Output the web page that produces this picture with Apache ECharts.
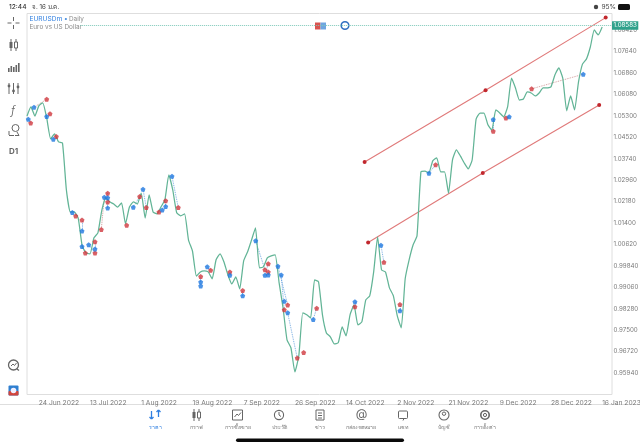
<!DOCTYPE html>
<html><head><meta charset="utf-8">
<style>html,body{margin:0;padding:0;background:#fff}#c{width:640px;height:447px}</style>
<script src="https://cdn.jsdelivr.net/npm/echarts@6/dist/echarts.min.js"></script>
</head><body><div id="c"></div>
<script>
const priceClose = [1.0529,1.0562,1.0529,1.0566,1.0577,1.0522,1.0446,1.0464,1.0435,1.0431,
1.0260,1.0180,1.0180,1.0158,1.0057,1.0031,1.0028,1.0086,1.0104,1.0187,
1.0231,1.0217,1.0209,1.0198,1.0213,1.0137,1.0198,1.0217,1.0209,1.0249,
1.0158,1.0242,1.0180,1.0173,1.0198,1.0224,1.0315,1.0260,1.0177,1.0166,
1.0173,1.0078,1.0038,0.9947,0.9962,0.9966,0.9962,0.9937,1.0006,1.0028,
0.9998,0.9951,0.9918,0.9944,0.9900,1.0002,1.0035,1.0078,1.0122,0.9977,
0.9980,1.0013,1.0020,1.0024,0.9922,0.9831,0.9715,0.9686,0.9598,0.9657,
0.9813,0.9806,0.9795,0.9933,0.9926,0.9806,0.9740,0.9726,0.9700,0.9704,
0.9762,0.9729,0.9806,0.9842,0.9769,0.9780,0.9860,0.9875,0.9962,1.0089,
0.9969,0.9962,0.9904,0.9875,0.9802,0.9758,0.9937,1.0006,1.0060,1.0093,
1.0326,1.0329,1.0322,1.0366,1.0377,1.0326,1.0326,1.0249,1.0369,1.0406,
1.0384,1.0358,1.0337,1.0369,1.0518,1.0540,1.0540,1.0497,1.0478,1.0551,
1.0540,1.0526,1.0562,1.0667,1.0631,1.0587,1.0591,1.0617,1.0613,1.0602,
1.0613,1.0631,1.0631,1.0635,1.0678,1.0704,1.0667,1.0548,1.0602,1.0551,
1.0653,1.0718,1.0736,1.0780,1.0842,1.0824,1.0853];

// trades: [bar position, price]; blue[i] links to red[i]
const tradeBlue = [[.33,1.0517],[1.78,1.0561],[5,1.0527],[6.68,1.0445],[11.5,1.0178],[13.96,1.0111],[13.96,1.0054],[15.66,1.0061],[17.26,1.0045],[19.62,1.0234],[20.48,1.0232],[20.48,1.0194],[26.98,1.0197],[29.44,1.0263],[34.34,1.0187],[35.2,1.02],[36.8,1.031],[44.09,.9925],[45.76,.9981],[51.5,.995],[54.75,.9875],[58.05,1.0075],[60.4,.995],[61.24,.9951],[63.7,.9983],[64.54,.9951],[66.17,.9813],[72.66,.9789],[83.25,.9853],[89.85,1.0059],[94.67,.9821],[102.03,1.0321],[118.35,1.0516],[122.4,1.0526],[141.2,1.0681]];
const tradeRed = [[.94,1.0504],[5,1.059],[5.84,1.0537],[7.44,1.0455],[12.36,1.0165],[13.96,1.0151],[14.8,1.0031],[17.26,1.0031],[17.26,1.0072],[18.86,1.0116],[20.48,1.0248],[20.48,1.0216],[28.6,1.0236],[30.28,1.0196],[33.5,1.018],[35.2,1.0221],[38.4,1.0196],[44.09,.9945],[46.62,.9968],[51.5,.9962],[54.75,.9894],[60.4,.997],[61.24,.9992],[61.24,.9962],[66.17,.9842],[65.3,.9824],[68.6,.9649],[73.53,.983],[83.25,.9835],[90.6,.9997],[94.67,.9843],[103.73,1.0352],[118.35,1.0474],[121.57,1.0522],[128.1,1.0628]];
const soloBlue = [[44.09,.9911],[65.3,.9855]];
const soloRed = [[25.3,1.0132],[70.23,.9669]];

const channelUpper = [[85.7,1.0362],[116.4,1.0623],[146.9,1.0887]];
const channelLower = [[86.6,1.0069],[115.7,1.0322],[145.25,1.0569]];

const currentPrice = 1.08583;
const priceTicks = [1.0842,1.0764,1.0686,1.0608,1.053,1.0452,1.0374,1.0296,1.0218,1.014,1.0062,.9984,.9906,.9828,.975,.9672,.9594];
const dateTickBars = [3,16,29,42,55,68,81,94,107,120,133,146];
const dateTickLabels = ['24 Jun 2022','13 Jul 2022','1 Aug 2022','19 Aug 2022','7 Sep 2022','26 Sep 2022','14 Oct 2022','2 Nov 2022','21 Nov 2022','9 Dec 2022','28 Dec 2022','16 Jan 2023'];
const tabLabels = ['ราคา','กราฟ','การซื้อขาย','ประวัติ','ข่าว','กล่องจดหมาย','แชท','บัญชี','การตั้งค่า'];

const PENT='path://M5 0L10 4L8 10L2 10L0 4Z';
const FONT='Inter, Roboto, "Noto Sans", sans-serif';
const chart=echarts.init(document.getElementById('c'),null,{renderer:'canvas'});

const G='#666';
const T=(x,y,text,size,fill,extra)=>({type:'text',x,y,style:Object.assign({text,fontSize:size,fontFamily:FONT,fill,textVerticalAlign:'middle'},extra||{}),silent:true});
const L=(x1,y1,x2,y2,c,w)=>({type:'line',shape:{x1,y1,x2,y2},style:{stroke:c||G,lineWidth:w||1},silent:true});
const R=(x,y,w,h,f,s,r)=>({type:'rect',shape:{x,y,width:w,height:h,r:r||0},style:{fill:f||'none',stroke:s||null,lineWidth:1},silent:true});
const C=(x,y,r,f,s,w)=>({type:'circle',shape:{cx:x,cy:y,r},style:{fill:f||'none',stroke:s||null,lineWidth:w||1},silent:true});
const candle=(x,y)=>[L(x-2.5,y-6,x-2.5,y+6,G),R(x-4,y-3,3,6,G),L(x+2.5,y-6,x+2.5,y+6,G),R(x+1,y-3,3,6,'#fff',G)];

const chrome=[
 T(9,7,'12:44',6.6,'#333',{fontWeight:500}),
 T(32,7,'จ. 16 ม.ค.',6.2,'#333'),
 T(601.5,7,'95%',6.6,'#444'),
 R(618,4,12,6,'#111',null,1.5),
 C(596,7,2.2,'#444'),
 T(29.5,19,'EURUSDm',6.6,'#2f7fe0'),
 T(64,19,'•',6.6,'#4a90e0'),
 T(69,19,'Daily',6.4,'#8a8a8a'),
 T(29.5,27,'Euro vs US Dollar',6.4,'#8a8a8a'),
 R(315,22.5,5.5,7,'#d9534f'),R(320.5,22.5,5.5,7,'#6ea5e0'),
 C(345,25.5,3.8,'#fff','#2f6fc0',1.6),
 // left toolbar
 L(13.5,17,13.5,21),L(13.5,25,13.5,29),L(7.5,23,11.5,23),L(15.5,23,19.5,23),
 ...candle(13.5,45),
 R(8,68,1.6,4,G),R(10.5,66,1.6,6,G),R(13,67,1.6,5,G),R(15.5,65,1.6,7,G),R(18,63,1.6,9,G),
 L(9,83,9,94),L(13.5,83,13.5,94),L(18,83,18,94),C(9,86,1.4,G),C(13.5,91,1.4,G),C(18,87,1.4,G),
 T(13,110,'ƒ',12,G,{textAlign:'center',fontStyle:'italic',fontWeight:300}),
 C(15.5,128,3.5,'#fff',G),L(9,131,9,135),L(9,135.5,14,135.5),L(15,135.5,19,135.5),L(19,135.5,17,132),
 T(13.5,152,'D1',8,G,{textAlign:'center',fontWeight:700}),
 C(13.5,365,5,'#fff',G,1.3),L(11,366,13,364,G),L(13,364,14.5,365.5,G),L(14.5,365.5,16.5,363,G),L(17,369,19,370.5,G,1.3),
 R(8.5,385.5,10,10,'#2f7fd0',null,1),R(8.5,391,10,4.5,'#d0453d',null,1),C(13.5,390.5,2.8,'#eef'),
 // bottom bar
 L(0,404.5,640,404.5,'#dedede'),
 L(151.5,411,151.5,419,'#2f7fe0',1.3),L(149.5,417,151.5,419,'#2f7fe0',1.3),L(153.5,417,151.5,419,'#2f7fe0',1.3),
 L(158.5,410,158.5,417,'#2f7fe0',1.3),L(156.5,412,158.5,410,'#2f7fe0',1.3),L(160.5,412,158.5,410,'#2f7fe0',1.3),
 ...candle(196.5,415),
 R(232.5,410,10,10,'none',G),L(234.5,417,237,414,G),L(237,414,238.5,415.5,G),L(238.5,415.5,241,412.5,G),
 C(279,415,4.6,'#fff',G,1.1),L(279,412,279,415,G),L(279,415,281,416.5,G),
 R(316,410,8,10,'none',G),L(318,413,322,413,G),L(318,415.5,322,415.5,G),L(318,418,322,418,G),
 T(361.5,414.5,'@',12,G,{textAlign:'center'}),
 R(398.5,411,9,7.5,'none',G,1),L(404,418.5,403,420.5,G),
 C(444,415,5,'none',G,1.1),C(444,413.7,1.7,'none',G,1),
 C(485,415,4.2,'none',G,1.6),C(485,415,1.6,'none',G,1),
 ...[155,196,238,279,320,361,403,444,485].map((x,i)=>T(x,427.5,tabLabels[i],5.3,i===0?'#2f7fe0':'#777',{textAlign:'center'})),
 R(236,438.5,168,3.5,'#0a0a0a',null,1.7)
];

const channelSeries=d=>({type:'line',data:d,symbol:'circle',symbolSize:4,silent:true,animation:false,z:3,
 lineStyle:{color:'#e07a7a',width:1.1},itemStyle:{color:'#c1272d'}});

chart.setOption({
 animation:false,
 backgroundColor:'#fff',
 grid:{left:27,top:13.5,width:585,height:381,show:true,borderColor:'#dedede',borderWidth:1,backgroundColor:'#fff',outerBoundsMode:'none'},
 xAxis:{type:'value',min:0,max:148.5,splitLine:{show:false},axisLine:{show:false},
  axisTick:{show:false,customValues:dateTickBars},
  axisLabel:{customValues:dateTickBars,showMinLabel:true,showMaxLabel:true,hideOverlap:false,align:'left',margin:4.5,fontSize:6.7,fontFamily:FONT,color:'#7a7a7a',
   formatter:v=>dateTickLabels[dateTickBars.indexOf(Math.round(v))]||''}},
 yAxis:{type:'value',position:'right',min:.9516,max:1.0902,splitLine:{show:false},axisLine:{show:false},
  axisTick:{show:false,customValues:priceTicks},
  axisLabel:{customValues:priceTicks,margin:1.5,fontSize:6.2,fontFamily:FONT,color:'#7a7a7a',formatter:v=>v.toFixed(5)}},
 series:[
  {type:'lines',coordinateSystem:'cartesian2d',silent:true,z:2,polyline:false,
   data:tradeBlue.map((b,i)=>({coords:[b,tradeRed[i]],lineStyle:{color:(i===9||i===34||i===1)?'#c98a8a':'#5c9bdc',type:'dotted',width:.9,opacity:.95}}))},
  {type:'line',data:priceClose.map((v,i)=>[i,v]),symbol:'none',silent:true,z:4,smooth:.15,
   lineStyle:{color:'#62b496',width:1.25},
   markLine:{silent:true,symbol:'none',precision:5,animation:false,
    data:[[{coord:[13.5,currentPrice],lineStyle:{color:'#7cc8b8',type:'dotted',width:1}},{coord:[148.5,currentPrice],
     label:{show:true,position:'end',formatter:currentPrice.toFixed(5),distance:0,color:'#fff',backgroundColor:'#2fa18b',fontSize:6.2,fontFamily:FONT,padding:[1.5,1.5,1,1.5]}}]],
    label:{show:true}}},
  channelSeries(channelUpper),
  channelSeries(channelLower),
  {type:'scatter',data:tradeRed.concat(soloRed),symbol:PENT,symbolSize:5,silent:true,z:5,itemStyle:{color:'#d0383f'}},
  {type:'scatter',data:tradeBlue.concat(soloBlue),symbol:PENT,symbolSize:5,silent:true,z:6,itemStyle:{color:'#1f78e0'}}
 ],
 graphic:{elements:chrome}
});
</script></body></html>
